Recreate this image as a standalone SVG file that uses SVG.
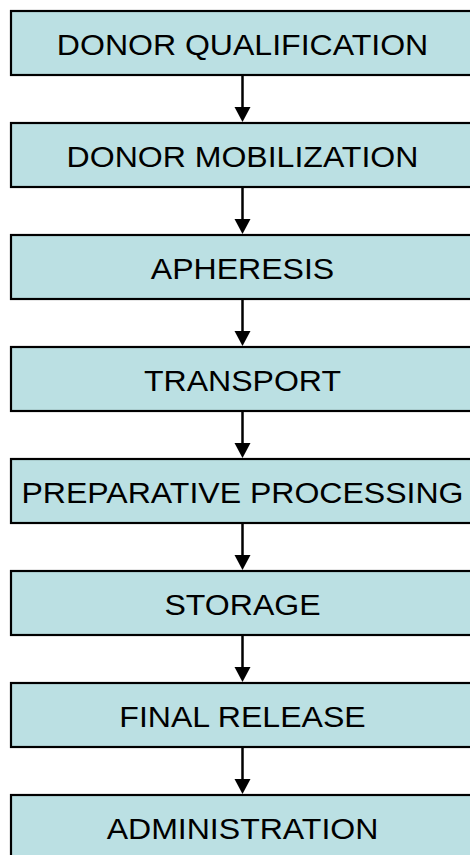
<svg xmlns="http://www.w3.org/2000/svg" width="470" height="855" viewBox="0 0 470 855">
<defs>
<style>
.box{fill:#BBE0E3;stroke:#000;stroke-width:2.2}
.lbl{font-family:"Liberation Sans",Arial,sans-serif;font-size:29px;fill:#000;text-anchor:middle}
.conn line{stroke:#000;stroke-width:2.5}
.conn polygon{fill:#000}
</style>
</defs>
<rect width="470" height="855" fill="#fff"/>
<g id="n1"><rect class="box" x="11" y="11" width="463" height="64"/><text class="lbl" transform="translate(242.5 54.5) scale(1.105 1)">DONOR QUALIFICATION</text></g>
<g id="n2"><rect class="box" x="11" y="123" width="463" height="64"/><text class="lbl" transform="translate(242.5 166.5) scale(1.105 1)">DONOR MOBILIZATION</text></g>
<g id="n3"><rect class="box" x="11" y="235" width="463" height="64"/><text class="lbl" transform="translate(242.5 278.5) scale(1.105 1)">APHERESIS</text></g>
<g id="n4"><rect class="box" x="11" y="347" width="463" height="64"/><text class="lbl" transform="translate(242.5 390.5) scale(1.105 1)">TRANSPORT</text></g>
<g id="n5"><rect class="box" x="11" y="459" width="463" height="64"/><text class="lbl" transform="translate(242.5 502.5) scale(1.105 1)">PREPARATIVE PROCESSING</text></g>
<g id="n6"><rect class="box" x="11" y="571" width="463" height="64"/><text class="lbl" transform="translate(242.5 614.5) scale(1.105 1)">STORAGE</text></g>
<g id="n7"><rect class="box" x="11" y="683" width="463" height="64"/><text class="lbl" transform="translate(242.5 726.5) scale(1.105 1)">FINAL RELEASE</text></g>
<g id="n8"><rect class="box" x="11" y="795" width="463" height="64"/><text class="lbl" transform="translate(242.5 838.5) scale(1.105 1)">ADMINISTRATION</text></g>
<g id="connectors" class="conn">
<line x1="242.5" y1="76" x2="242.5" y2="108"/><polygon points="234.5,107 250.5,107 242.5,122"/>
<line x1="242.5" y1="188" x2="242.5" y2="220"/><polygon points="234.5,219 250.5,219 242.5,234"/>
<line x1="242.5" y1="300" x2="242.5" y2="332"/><polygon points="234.5,331 250.5,331 242.5,346"/>
<line x1="242.5" y1="412" x2="242.5" y2="444"/><polygon points="234.5,443 250.5,443 242.5,458"/>
<line x1="242.5" y1="524" x2="242.5" y2="556"/><polygon points="234.5,555 250.5,555 242.5,570"/>
<line x1="242.5" y1="636" x2="242.5" y2="668"/><polygon points="234.5,667 250.5,667 242.5,682"/>
<line x1="242.5" y1="748" x2="242.5" y2="780"/><polygon points="234.5,779 250.5,779 242.5,794"/>
</g>
</svg>
